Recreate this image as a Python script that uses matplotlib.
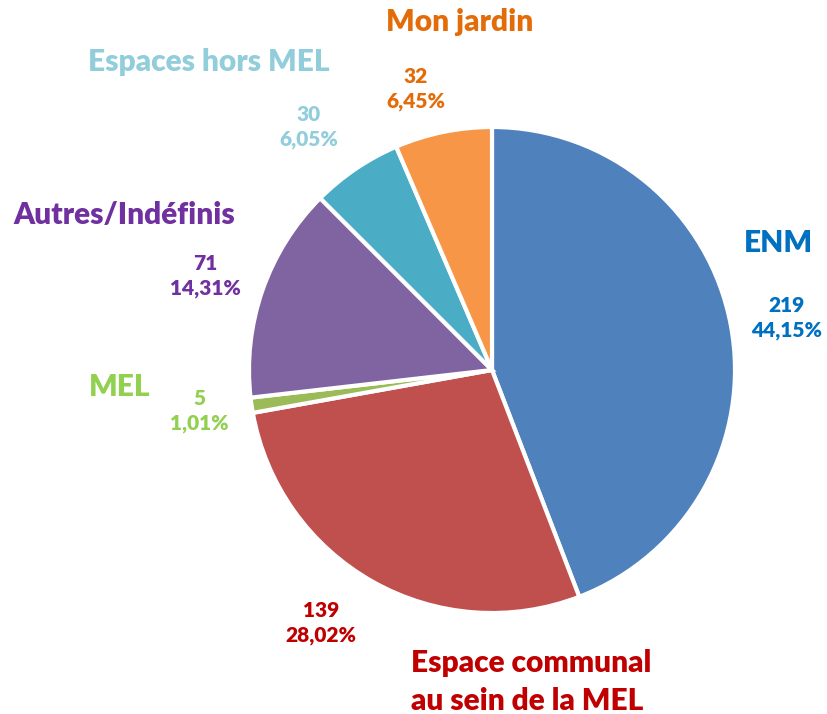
import matplotlib.pyplot as plt

# données
categories = ['ENM', 'Espace communal\nau sein de la MEL', 'MEL', 'Autres/Indéfinis',
              'Espaces hors MEL', 'Mon jardin']
values = [219, 139, 5, 71, 30, 32]
wedge_colors = ['#4F81BD', '#C0504D', '#9BBB59', '#8064A2', '#4BACC6', '#F79646']
text_colors = ['#0070C0', '#C00000', '#92D050', '#7030A0', '#92CDDC', '#E36C09']

# positions des étiquettes (pixels, origine en haut à gauche)
name_pos = [(778, 243), (411, 682), (120, 387), (124, 215), (209, 62), (460, 22)]
name_ha = ['center', 'left', 'center', 'center', 'center', 'center']
value_pos = [(787, 318), (321, 623), (199, 411), (205, 276), (309, 127), (416, 89)]

W, H = 828, 714
fig = plt.figure(figsize=(W / 100, H / 100), dpi=100)
ax = fig.add_axes([0, 0, 1, 1])
ax.set_xlim(0, W)
ax.set_ylim(0, H)
ax.set_aspect('equal')
ax.axis('off')

ax.pie(values, colors=wedge_colors, startangle=90, counterclock=False,
       center=(492, H - 370), radius=243,
       wedgeprops=dict(edgecolor='white', linewidth=3))
ax.set_xlim(0, W)
ax.set_ylim(0, H)

total = sum(values)
font = 'Lato'
for i, cat in enumerate(categories):
    x, y = name_pos[i]
    ax.text(x, H - y, cat, ha=name_ha[i], va='center', fontsize=21.5,
            fontweight='heavy', color=text_colors[i], family=font, linespacing=1.4)
    pct = f"{values[i] / total * 100:.2f}".replace('.', ',') + '%'
    vx, vy = value_pos[i]
    ax.text(vx, H - vy, f"{values[i]}\n{pct}", ha='center', va='center',
            fontsize=15, fontweight='heavy', color=text_colors[i], family=font,
            linespacing=1.35)

fig.savefig('out.png', dpi=100)
